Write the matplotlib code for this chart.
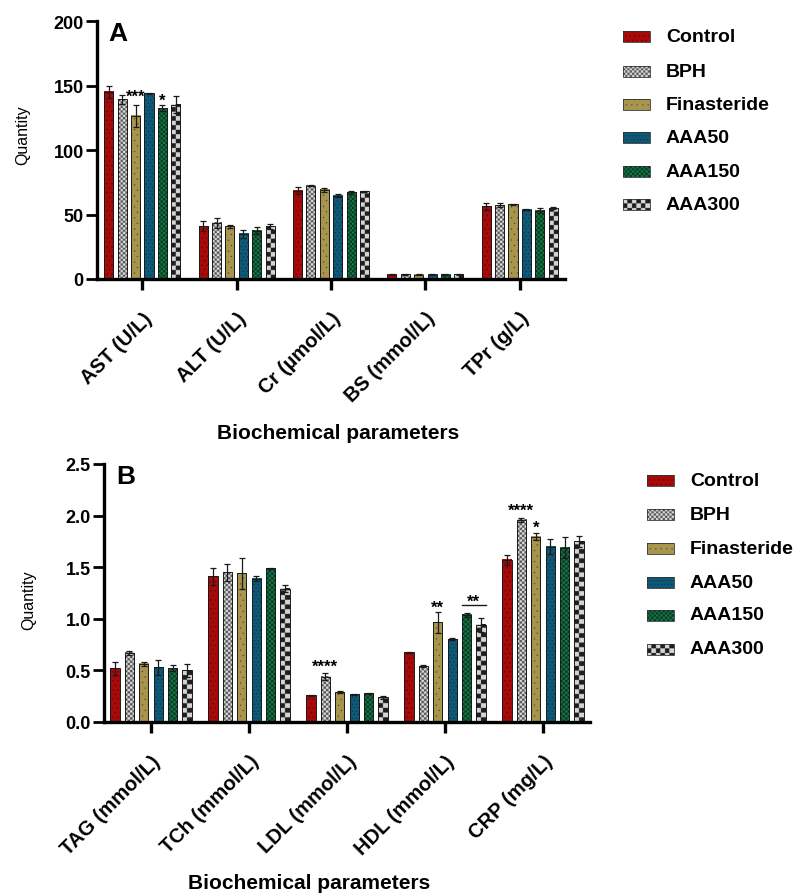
import matplotlib
matplotlib.use('Agg')
import matplotlib.pyplot as plt
import numpy as np
from matplotlib.colors import ListedColormap
from matplotlib.patches import Rectangle

plt.rcParams['font.family'] = ['Liberation Sans', 'DejaVu Sans']

# series names
series = ['Control', 'BPH', 'Finasteride', 'AAA50', 'AAA150', 'AAA300']

# panel A
groups_a = ['AST (U/L)', 'ALT (U/L)', 'Cr (µmol/L)', 'BS (mmol/L)', 'TPr (g/L)']
ctrl_a = [145, 41, 68.5, 3.3, 56.3]
bph_a = [139.5, 43.5, 72.4, 3.5, 57.3]
fin_a = [126.6, 41, 69, 3.4, 57.8]
a50_a = [144, 35, 64.6, 3.4, 53.7]
a150_a = [132.5, 37.5, 67.2, 3.4, 53]
a300_a = [135, 41, 68, 3.5, 55]
ctrl_a_err = [5, 4, 2.5, 0.2, 2.7]
bph_a_err = [3.5, 3.9, 0.6, 0.3, 1.3]
fin_a_err = [8.4, 1.2, 1.5, 0.2, 0.3]
a50_a_err = [0.5, 3, 1, 0.2, 0.3]
a150_a_err = [2.5, 2.5, 1.3, 0.2, 2]
a300_a_err = [6.6, 2, 0.5, 0.3, 0.5]

# panel B
groups_b = ['TAG (mmol/L)', 'TCh (mmol/L)', 'LDL (mmol/L)', 'HDL (mmol/L)', 'CRP (mg/L)']
ctrl_b = [0.52, 1.41, 0.26, 0.675, 1.57]
bph_b = [0.67, 1.45, 0.44, 0.54, 1.96]
fin_b = [0.565, 1.44, 0.29, 0.966, 1.795]
a50_b = [0.53, 1.39, 0.27, 0.80, 1.70]
a150_b = [0.52, 1.49, 0.28, 1.037, 1.69]
a300_b = [0.50, 1.29, 0.24, 0.94, 1.75]
ctrl_b_err = [0.06, 0.08, 0.005, 0.005, 0.05]
bph_b_err = [0.02, 0.08, 0.03, 0.01, 0.02]
fin_b_err = [0.02, 0.15, 0.01, 0.10, 0.035]
a50_b_err = [0.07, 0.025, 0.005, 0.01, 0.07]
a150_b_err = [0.03, 0.005, 0.005, 0.02, 0.10]
a300_b_err = [0.06, 0.035, 0.015, 0.07, 0.05]

# significance marks: (group, series index, y, text)
sig_a = [(0, 2, 146, '***'), (0, 4, 143, '*')]
sig_b = [(2, 1, 0.59, '****'), (3, 2, 1.17, '**'), (4, 1, 2.11, '****'), (4, 2, 1.94, '*')]
bracket_b = (3, 4, 5, 1.13, '**')

# fill textures: (kind, base colour, mark colour, size)
styles = [
    ('dots', '#a80a0a', '#2a0000', 4.5),
    ('checker', '#dcdcdc', '#555555', 2.3),
    ('dots', '#a8954e', '#2a2410', 5.5),
    ('dots', '#0f5a78', '#072030', 3.5),
    ('checker', '#147a48', '#0a3520', 2.3),
    ('checker', '#d5d5d5', '#1e1e1e', 4.5),
]

OS = 3  # oversampling of the texture images


def texture(ax, patch, style, z):
    kind, c1, c2, size = style
    bb = patch.get_window_extent()
    w = int(round(bb.width * OS))
    h = int(round(bb.height * OS))
    if w <= 0 or h <= 0:
        return
    c = np.arange(w) + 0.5
    r = np.arange(h) + 0.5
    if kind == 'checker':
        sq = w / max(1, round(bb.width / size))
        grid = ((r[:, None] // sq) + (c[None, :] // sq)) % 2
    else:
        sp = size * OS
        dot = 1.0 * OS
        k = (r // sp)[:, None]
        shift = (k % 2) * sp / 2
        grid = (((r[:, None] % sp) < dot) & (((c[None, :] + shift) % sp) < dot)).astype(float)
    db = patch.get_bbox()
    ax.imshow(grid, cmap=ListedColormap([c1, c2]), vmin=0, vmax=1,
              extent=(db.x0, db.x1, min(db.y0, db.y1), max(db.y0, db.y1)),
              origin='lower', aspect='auto', interpolation='antialiased', zorder=z)


def panel(ax, groups, means, errs, ylim, yticks, ylabels, pitch, width, letter):
    ax.set_xlim(-0.48, len(groups) - 0.52)
    ax.set_ylim(*ylim)
    x = np.arange(len(groups))
    for j, (m, e) in enumerate(zip(means, errs)):
        xs = x + (j - 2.5) * pitch
        bars = ax.bar(xs, m, width, color=styles[j][1], linewidth=0, zorder=2)
        for b in bars:
            texture(ax, b, styles[j], 2.1)
        ax.bar(xs, m, width, fill=False, edgecolor='#1a1a1a', linewidth=0.7, zorder=2.2)
        ax.errorbar(xs, m, yerr=e, fmt='none', ecolor='#1a1a1a', elinewidth=0.9,
                    capsize=2.3, capthick=0.9, zorder=3)
    for s in ['top', 'right']:
        ax.spines[s].set_visible(False)
    for s in ['left', 'bottom']:
        ax.spines[s].set_linewidth(2.4)
    ax.set_yticks(yticks)
    ax.set_yticklabels(ylabels, fontsize=13, fontweight='bold')
    ax.set_xticks(x)
    ax.set_xticklabels(groups, fontsize=14.5, fontweight='bold', rotation=45,
                       ha='right', rotation_mode='anchor')
    ax.tick_params(axis='y', length=8, width=2, pad=1.5)
    ax.tick_params(axis='x', length=8, width=2.4, pad=13)
    ax.set_ylabel('Quantity', fontsize=11.5)
    ax.set_xlabel('Biochemical parameters', fontsize=15, fontweight='bold')
    ax.text(0.045, 0.955, letter, transform=ax.transAxes, fontsize=19,
            fontweight='bold', ha='center', va='center')


def stars(ax, pitch, marks):
    for g, j, y, t in marks:
        ax.annotate(t, (g + (j - 2.5) * pitch, y), xytext=(0, -4),
                    textcoords='offset points', ha='center', va='center',
                    fontsize=12, fontweight='bold', zorder=5)


def legend(lax, x, ys, tx):
    for j, (name, y) in enumerate(zip(series, ys)):
        r = Rectangle((x, y - 5.5), 27, 11, facecolor=styles[j][1], linewidth=0, zorder=2)
        lax.add_patch(r)
        texture(lax, r, styles[j], 2.5)
        lax.add_patch(Rectangle((x, y - 5.5), 27, 11, fill=False,
                                edgecolor='#333333', linewidth=0.6, zorder=3))
        lax.text(tx, y, name, fontsize=14, fontweight='bold', va='center', ha='left')


fig = plt.figure(figsize=(7.94, 8.95), dpi=100)
ax_a = fig.add_axes([97 / 794, 1 - 280 / 895, 468 / 794, 258 / 895])
ax_b = fig.add_axes([104 / 794, 1 - 723 / 895, 486 / 794, 258 / 895])

means_a = [ctrl_a, bph_a, fin_a, a50_a, a150_a, a300_a]
errs_a = [ctrl_a_err, bph_a_err, fin_a_err, a50_a_err, a150_a_err, a300_a_err]
means_b = [ctrl_b, bph_b, fin_b, a50_b, a150_b, a300_b]
errs_b = [ctrl_b_err, bph_b_err, fin_b_err, a50_b_err, a150_b_err, a300_b_err]

pitch_a, pitch_b = 0.142, 0.147
panel(ax_a, groups_a, means_a, errs_a, (0, 200), [0, 50, 100, 150, 200],
      ['0', '50', '100', '150', '200'], pitch_a, 0.096, 'A')
panel(ax_b, groups_b, means_b, errs_b, (0, 2.5), [0, 0.5, 1.0, 1.5, 2.0, 2.5],
      ['0.0', '0.5', '1.0', '1.5', '2.0', '2.5'], pitch_b, 0.095, 'B')
ax_a.yaxis.set_label_coords(-0.143, 0.56)
ax_a.xaxis.set_label_coords(0.515, -0.558)
ax_b.yaxis.set_label_coords(-0.140, 0.477)
ax_b.xaxis.set_label_coords(0.422, -0.585)

stars(ax_a, pitch_a, sig_a)
stars(ax_b, pitch_b, sig_b)
g, j1, j2, yb, tb = bracket_b
half = 0.095 / 2
ax_b.plot([g + (j1 - 2.5) * pitch_b - half, g + (j2 - 2.5) * pitch_b + half], [yb, yb],
          color='#1a1a1a', linewidth=1, zorder=5)
ax_b.annotate(tb, (g + ((j1 + j2) / 2 - 2.5) * pitch_b, yb + 0.09), xytext=(0, -4),
              textcoords='offset points', ha='center', va='center',
              fontsize=12, fontweight='bold', zorder=5)

lax = fig.add_axes([0, 0, 1, 1])
lax.set_xlim(0, 794)
lax.set_ylim(895, 0)
lax.axis('off')
legend(lax, 623, [37, 72, 105, 138, 172, 205], 666)
legend(lax, 647, [481, 515, 549, 583, 616, 650], 690)

fig.savefig('out.png', dpi=100)
